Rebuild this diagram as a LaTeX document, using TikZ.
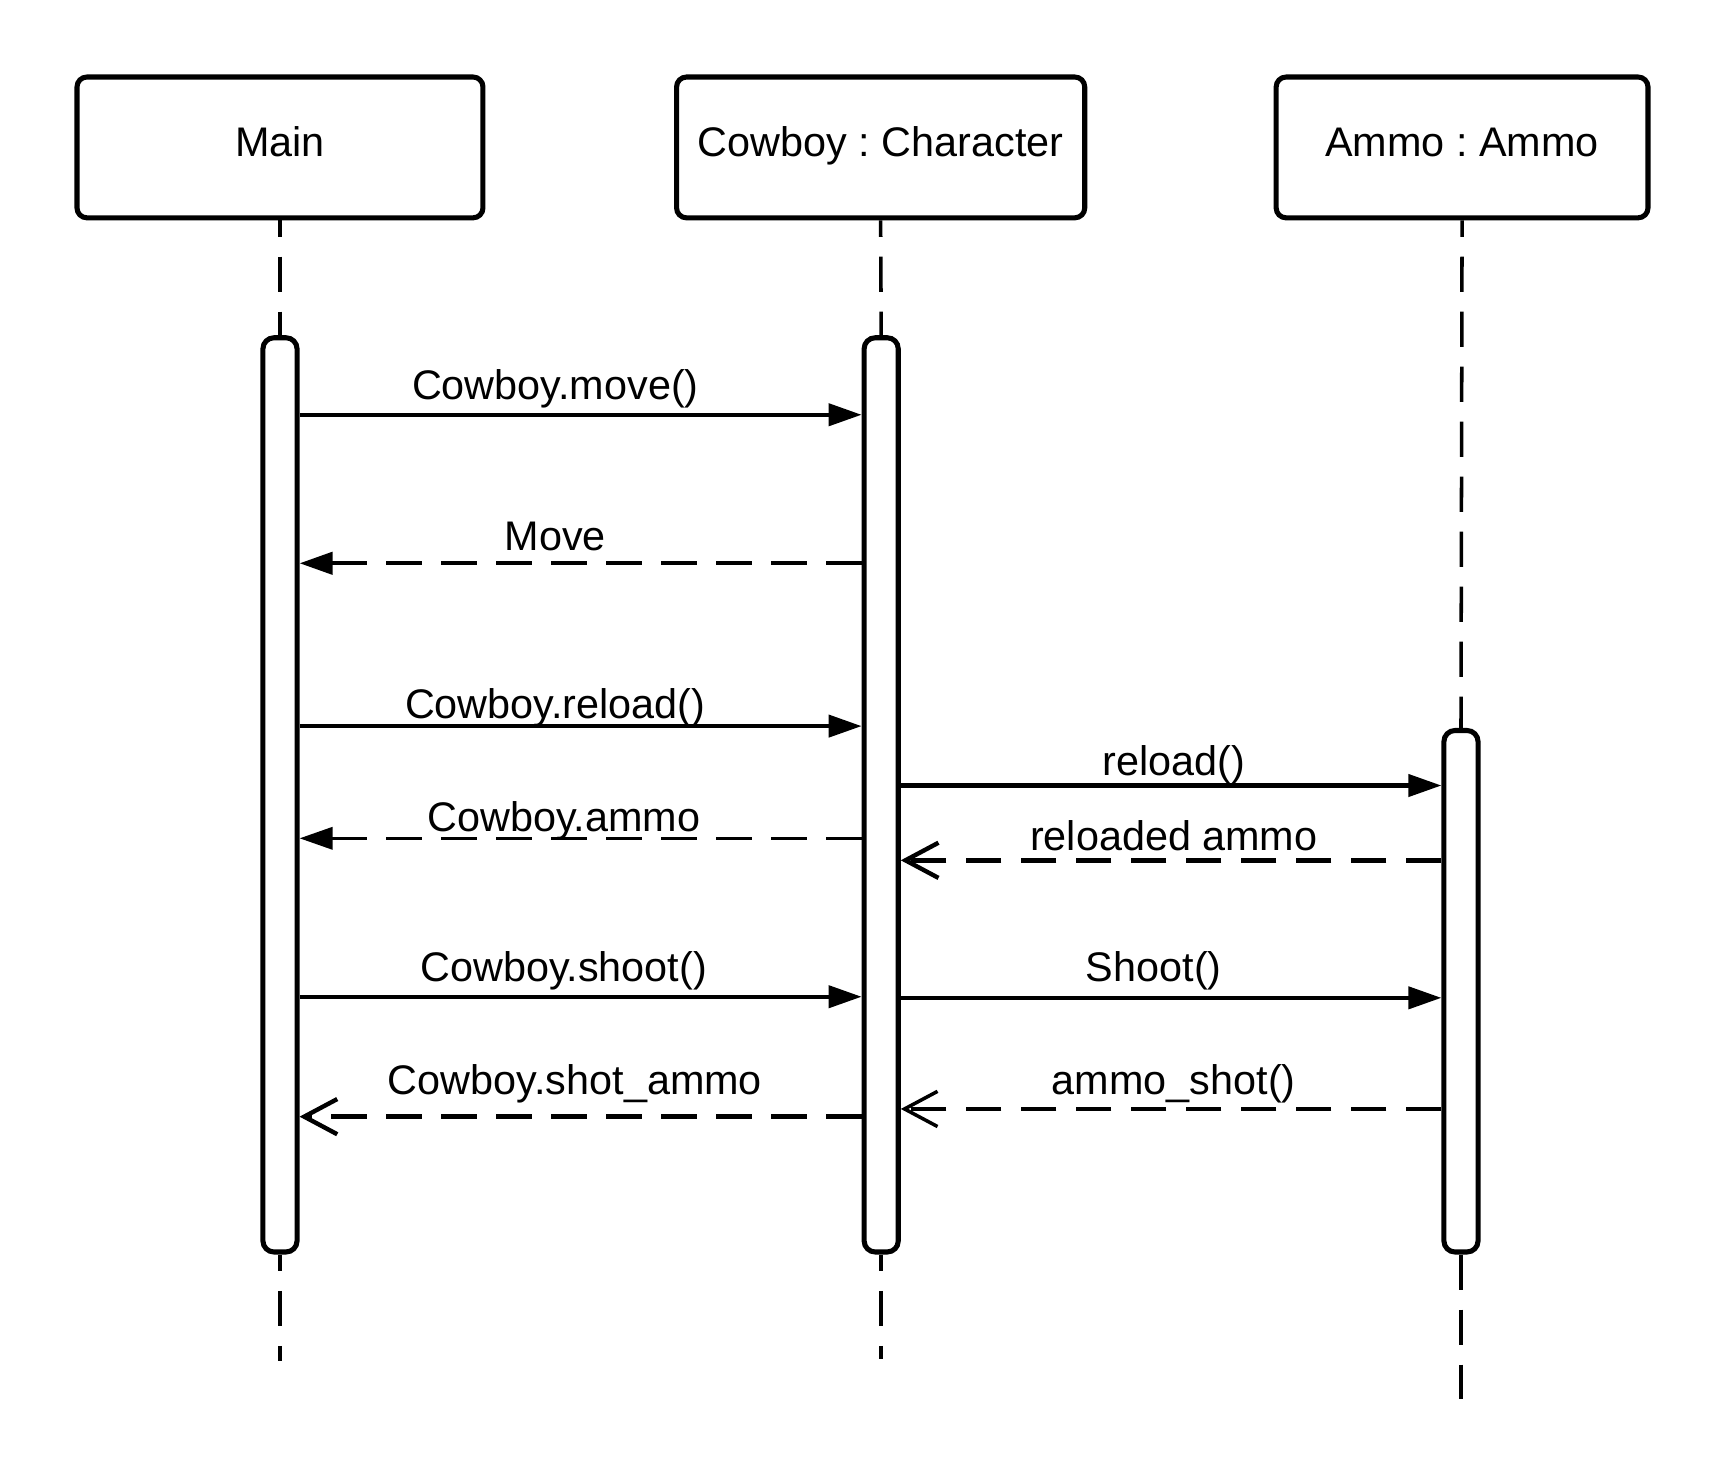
\documentclass[tikz,border=0pt]{standalone}
\usepackage{fontspec}
\setmainfont{Liberation Sans}
\usetikzlibrary{arrows.meta, positioning}
\frenchspacing

\begin{document}
\begin{tikzpicture}[
  x=0.5pt, y=-0.5pt,
  font=\fontsize{18.8pt}{22pt}\selectfont,
  actor/.style={
    draw, line width=2.3pt, rounded corners=4.5pt, fill=white,
    minimum height=64pt, text height=0.9em, text depth=0.1em
  },
  bar/.style={
    draw, line width=2.3pt, rounded corners=5pt, fill=white,
    minimum width=15.5pt, inner sep=0pt
  },
  life/.style={line width=1.6pt, dash pattern=on 16pt off 9pt, dash phase=8.5pt},
  call/.style={-{Triangle[length=15pt, width=10pt]}, line width=1.9pt},
  back/.style={dash pattern=on 16pt off 9pt, line width=2pt},
  lightback/.style={back, line width=1.6pt},
  fullhead/.style={-{Triangle[length=15pt, width=10pt]}},
  openhead/.style={-{Straight Barb[length=15pt, width=16pt]}},
  msg/.style={anchor=base, inner sep=0pt},
]
\useasboundingbox (0,0) rectangle (1568,1341);

% Participants
\node[actor, minimum width=184.5pt] (main) at (254.5,134) {Main};
\node[actor, minimum width=185.5pt] (cowboy) at (800.5,134) {Cowboy : Character};
\node[actor, minimum width=169pt] (ammo) at (1329,134) {Ammo : Ammo};

% Activation bars
\node[bar, minimum height=415.5pt] (mainbar) at (254.5,722.5) {};
\node[bar, minimum height=415.5pt] (cowbar) at (801,722.5) {};
\node[bar, minimum height=237pt] (ammobar) at (1328,901) {};

% Lifeline ends
\coordinate (mainend) at (254.5,1237);
\coordinate (cowend) at (801,1235);
\coordinate (ammoend) at (1328,1272);

% Lifelines
\draw[life] (main.south) -- (mainbar.north);
\draw[life] (mainbar.south) -- (mainend);
\draw[life] (cowboy.south) -- (cowbar.north);
\draw[life] (cowbar.south) -- (cowend);
\draw[life] (ammo.south) -- (ammobar.north);
\draw[life, dash phase=0pt] (ammobar.south) -- (ammoend);

% Messages Main <-> Cowboy
\draw[call] (mainbar.east |- 0,377) -- node[msg, pos=.455, yshift=7pt] (lmove) {Cowboy.move()} (cowbar.west |- 0,377);
\draw[back, fullhead] (cowbar.west |- 0,512) -- node[msg, pos=.545, yshift=6pt] (lmoveback) {Move} (mainbar.east |- 0,512);
\draw[call] (mainbar.east |- 0,660) -- node[msg, pos=.455, yshift=3.5pt] (lreload) {Cowboy.reload()} (cowbar.west |- 0,660);
\draw[lightback, fullhead] (cowbar.west |- 0,762) -- node[msg, pos=.53, yshift=3pt] (lammo) {Cowboy.ammo} (mainbar.east |- 0,762);
\draw[call] (mainbar.east |- 0,906) -- node[msg, pos=.47, yshift=7pt] (lshoot) {Cowboy.shoot()} (cowbar.west |- 0,906);
\draw[back, openhead] (cowbar.west |- 0,1015) -- node[msg, pos=.51, yshift=10pt] (lshot) {Cowboy.shot\_ammo} (mainbar.east |- 0,1015);

% Messages Cowboy <-> Ammo
\draw[call] (cowbar.east |- 0,714) -- node[msg, pos=.505, yshift=4.5pt] (lareload) {reload()} (ammobar.west |- 0,714);
\draw[back, openhead] (ammobar.west |- 0,782) -- node[msg, pos=.495, yshift=4.5pt] (lreloaded) {reloaded ammo} (cowbar.east |- 0,782);
\draw[call] (cowbar.east |- 0,907) -- node[msg, pos=.468, yshift=7.5pt] (lashoot) {Shoot()} (ammobar.west |- 0,907);
\draw[lightback, openhead] (ammobar.west |- 0,1008) -- node[msg, pos=.495, yshift=6.5pt] (lashot) {ammo\_shot()} (cowbar.east |- 0,1008);

\end{tikzpicture}
\end{document}
